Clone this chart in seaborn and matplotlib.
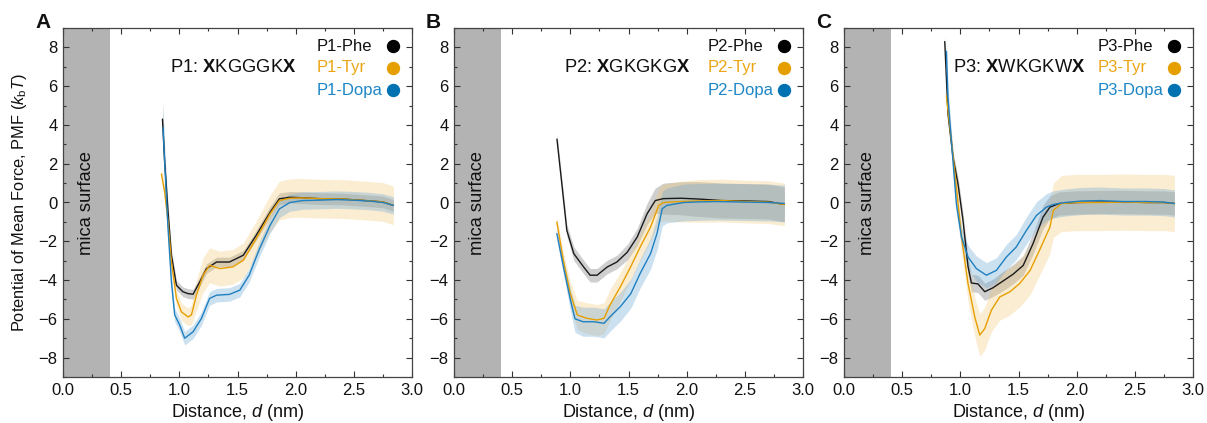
import numpy as np
import matplotlib
matplotlib.use("Agg")
import matplotlib.pyplot as plt
import seaborn as sns
from matplotlib.ticker import MultipleLocator, FormatStrFormatter

# ---------------- data ----------------
# Panel A (P1)
p1_phe_d = [0.855, 0.874, 0.903, 0.932, 0.975, 1.03, 1.075, 1.118, 1.175, 1.233, 1.32, 1.43, 1.55, 1.66, 1.78, 1.86, 1.95, 2.05, 2.2, 2.4, 2.6, 2.75, 2.84]
p1_phe_v = [4.3, 2.07, -0.5, -2.72, -4.27, -4.6, -4.7, -4.73, -4.1, -3.41, -3.07, -3.07, -2.72, -1.7, -0.5, 0.19, 0.27, 0.25, 0.2, 0.18, 0.1, 0.03, -0.15]
p1_phe_e = [0.9, 0.6, 0.4, 0.3, 0.25, 0.25, 0.25, 0.25, 0.25, 0.25, 0.25, 0.25, 0.25, 0.25, 0.3, 0.3, 0.3, 0.3, 0.3, 0.3, 0.3, 0.3, 0.3]

p1_tyr_d = [0.846, 0.874, 0.903, 0.932, 0.975, 1.018, 1.075, 1.104, 1.147, 1.204, 1.26, 1.347, 1.46, 1.55, 1.66, 1.78, 1.86, 1.95, 2.05, 2.2, 2.4, 2.6, 2.75, 2.84]
p1_tyr_v = [1.47, 0.53, -1.0, -3.07, -4.95, -5.64, -5.9, -5.8, -4.78, -3.75, -3.24, -3.41, -3.32, -2.98, -1.87, -0.58, 0.1, 0.22, 0.24, 0.2, 0.18, 0.1, 0.03, -0.15]
p1_tyr_e = [0.3, 0.3, 0.3, 0.35, 0.4, 0.45, 0.45, 0.5, 0.8, 0.9, 0.9, 0.9, 0.9, 0.9, 0.9, 0.95, 1.0, 1.0, 1.0, 1.0, 1.0, 1.0, 1.0, 1.0]

p1_dopa_d = [0.86, 0.874, 0.903, 0.932, 0.96, 1.003, 1.046, 1.118, 1.19, 1.26, 1.32, 1.43, 1.52, 1.6, 1.69, 1.78, 1.86, 1.95, 2.06, 2.2, 2.35, 2.5, 2.64, 2.75, 2.84]
p1_dopa_v = [3.87, 2.07, -1.35, -4.1, -5.8, -6.32, -7.0, -6.67, -5.98, -4.95, -4.78, -4.74, -4.52, -3.75, -2.38, -1.18, -0.33, 0.0, 0.1, 0.12, 0.15, 0.12, 0.07, 0.0, -0.15]
p1_dopa_e = [1.1, 0.8, 0.5, 0.4, 0.35, 0.35, 0.35, 0.35, 0.35, 0.35, 0.35, 0.35, 0.35, 0.35, 0.4, 0.4, 0.45, 0.45, 0.45, 0.45, 0.45, 0.45, 0.45, 0.45, 0.45]

# Panel B (P2)
p2_phe_d = [0.885, 0.93, 0.97, 1.03, 1.115, 1.17, 1.23, 1.316, 1.40, 1.49, 1.575, 1.66, 1.73, 1.80, 1.95, 2.1, 2.3, 2.5, 2.7, 2.84]
p2_phe_v = [3.27, 0.79, -1.44, -2.64, -3.33, -3.75, -3.75, -3.33, -3.07, -2.56, -1.78, -0.58, 0.1, 0.2, 0.22, 0.18, 0.1, 0.08, 0.05, -0.1]
p2_phe_e = [0.3, 0.3, 0.3, 0.35, 0.35, 0.35, 0.35, 0.35, 0.35, 0.4, 0.45, 0.55, 0.65, 0.8, 0.85, 0.9, 0.9, 0.9, 0.9, 0.9]

p2_tyr_d = [0.884, 0.94, 1.0, 1.06, 1.14, 1.23, 1.29, 1.34, 1.43, 1.52, 1.6, 1.69, 1.76, 1.80, 1.95, 2.1, 2.3, 2.5, 2.7, 2.84]
p2_tyr_v = [-1.0, -2.98, -4.7, -5.8, -5.97, -6.06, -5.97, -5.3, -4.35, -3.3, -2.3, -1.26, -0.15, 0.0, 0.05, 0.08, 0.1, 0.05, 0.02, -0.1]
p2_tyr_e = [0.3, 0.4, 0.6, 0.75, 0.8, 0.8, 0.8, 0.8, 0.75, 0.7, 0.7, 0.75, 0.85, 0.95, 1.05, 1.1, 1.1, 1.1, 1.1, 1.1]

p2_dopa_d = [0.884, 0.94, 1.0, 1.04, 1.11, 1.2, 1.29, 1.34, 1.43, 1.52, 1.6, 1.69, 1.745, 1.79, 1.83, 1.975, 2.1, 2.26, 2.5, 2.7, 2.84]
p2_dopa_v = [-1.6, -3.3, -5.0, -6.0, -6.15, -6.15, -6.23, -5.9, -5.37, -4.7, -3.66, -2.63, -1.6, -0.32, -0.15, 0.0, 0.03, 0.05, 0.02, 0.0, -0.05]
p2_dopa_e = [0.3, 0.4, 0.55, 0.7, 0.75, 0.75, 0.75, 0.75, 0.75, 0.75, 0.75, 0.8, 0.85, 0.9, 0.9, 0.95, 0.95, 0.95, 0.95, 0.95, 0.95]

# Panel C (P3)
p3_phe_d = [0.866, 0.894, 0.937, 0.98, 1.023, 1.066, 1.095, 1.152, 1.21, 1.28, 1.367, 1.453, 1.54, 1.625, 1.71, 1.77, 1.85, 2.0, 2.2, 2.4, 2.6, 2.75, 2.84]
p3_phe_v = [8.3, 4.56, 2.33, 0.96, -0.93, -3.3, -4.15, -4.2, -4.6, -4.4, -4.05, -3.7, -3.25, -2.12, -0.76, -0.24, -0.05, 0.0, 0.02, 0.03, 0.0, 0.0, -0.05]
p3_phe_e = [0.3, 0.3, 0.3, 0.35, 0.4, 0.45, 0.45, 0.45, 0.45, 0.45, 0.5, 0.5, 0.5, 0.55, 0.6, 0.6, 0.6, 0.6, 0.6, 0.6, 0.6, 0.6, 0.6]

p3_tyr_d = [0.88, 0.923, 0.966, 1.01, 1.066, 1.124, 1.167, 1.21, 1.267, 1.339, 1.425, 1.51, 1.6, 1.68, 1.77, 1.80, 1.87, 2.0, 2.2, 2.4, 2.6, 2.75, 2.84]
p3_tyr_v = [5.5, 3.18, 0.79, -1.78, -4.18, -5.9, -6.84, -6.5, -5.55, -4.87, -4.61, -4.18, -3.5, -2.47, -1.27, -0.4, -0.05, 0.0, 0.0, 0.02, 0.0, 0.0, -0.05]
p3_tyr_e = [0.3, 0.4, 0.5, 0.7, 0.9, 1.0, 1.1, 1.1, 1.1, 1.2, 1.2, 1.2, 1.25, 1.3, 1.35, 1.4, 1.45, 1.45, 1.45, 1.45, 1.45, 1.45, 1.45]

p3_dopa_d = [0.88, 0.894, 0.923, 0.966, 1.01, 1.066, 1.138, 1.224, 1.31, 1.396, 1.48, 1.568, 1.654, 1.74, 1.8, 1.9, 2.05, 2.2, 2.4, 2.6, 2.75, 2.84]
p3_dopa_v = [7.8, 5.4, 3.18, -0.07, -1.78, -2.81, -3.41, -3.75, -3.5, -2.81, -2.3, -1.44, -0.67, -0.24, -0.1, 0.0, 0.08, 0.1, 0.05, 0.05, 0.02, -0.05]
p3_dopa_e = [0.8, 0.6, 0.5, 0.5, 0.55, 0.6, 0.65, 0.65, 0.65, 0.65, 0.65, 0.7, 0.7, 0.7, 0.7, 0.7, 0.7, 0.7, 0.7, 0.7, 0.7, 0.7]

panel_letters = ["A", "B", "C"]
peptide_names = ["P1", "P2", "P3"]
sequences = ["KGGGK", "GKGKG", "WKGKW"]
variants = ["Phe", "Tyr", "Dopa"]
mica_range = [0.0, 0.4]

series = [
    [(p1_phe_d, p1_phe_v, p1_phe_e), (p1_tyr_d, p1_tyr_v, p1_tyr_e), (p1_dopa_d, p1_dopa_v, p1_dopa_e)],
    [(p2_phe_d, p2_phe_v, p2_phe_e), (p2_tyr_d, p2_tyr_v, p2_tyr_e), (p2_dopa_d, p2_dopa_v, p2_dopa_e)],
    [(p3_phe_d, p3_phe_v, p3_phe_e), (p3_tyr_d, p3_tyr_v, p3_tyr_e), (p3_dopa_d, p3_dopa_v, p3_dopa_e)],
]

line_colors = ["#1a1a1a", "#E69F00", "#1f7fbf"]
band_colors = ["#777777", "#F2C46A", "#6FAAD6"]
band_alpha = [0.35, 0.3, 0.35]
marker_colors = ["#000000", "#E69F00", "#0072B2"]
legend_text_colors = ["#111111", "#EBA513", "#1c86c6"]

# ---------------- style ----------------
sns.set_theme(style="ticks")
plt.rcParams["font.family"] = ["Liberation Sans", "DejaVu Sans"]
plt.rcParams["mathtext.fontset"] = "custom"
plt.rcParams["mathtext.rm"] = "Liberation Sans"
plt.rcParams["mathtext.it"] = "Liberation Sans:italic"
plt.rcParams["mathtext.bf"] = "Liberation Sans:bold"

fig = plt.figure(figsize=(12.07, 4.23), dpi=100)
W, H = 1207.0, 423.0
lefts = [63, 454, 844]
ax_w, ax_top, ax_bot = 349, 28, 377
legend_rows = [8.07, 6.95, 5.8]
seq_right = [2.01, 2.03, 2.08]

for i in range(3):
    ax = fig.add_axes([lefts[i] / W, 1 - ax_bot / H, ax_w / W, (ax_bot - ax_top) / H])
    ax.axvspan(mica_range[0], mica_range[1], color="#b3b3b3", lw=0, zorder=0)
    ax.text(0.2, 0.0, "mica surface", rotation=90, ha="center", va="center", fontsize=13.2, color="#111111")

    for j, (d, v, e) in enumerate(series[i]):
        d = np.asarray(d); v = np.asarray(v); e = np.asarray(e)
        ax.fill_between(d, v - e, v + e, color=band_colors[j], alpha=band_alpha[j], lw=0, zorder=1 + j)
    for j, (d, v, e) in enumerate(series[i]):
        sns.lineplot(x=d, y=v, ax=ax, color=line_colors[j], linewidth=1.0, errorbar=None,
                     sort=False, zorder=5 + j)

    ax.set_xlim(0, 3)
    ax.set_ylim(-9, 9)
    ax.xaxis.set_major_locator(MultipleLocator(0.5))
    ax.xaxis.set_minor_locator(MultipleLocator(0.25))
    ax.yaxis.set_major_locator(MultipleLocator(2))
    ax.yaxis.set_minor_locator(MultipleLocator(1))
    ax.xaxis.set_major_formatter(FormatStrFormatter("%.1f"))
    ax.tick_params(which="both", direction="in", top=True, right=True, colors="#333333",
                   labelcolor="#111111", labelsize=12, width=0.8)
    ax.tick_params(which="major", length=4, pad=4)
    ax.tick_params(which="minor", length=2)
    for s in ax.spines.values():
        s.set_color("#444444")
        s.set_linewidth(0.9)

    ax.set_xlabel("Distance, $\\it{d}$ (nm)", fontsize=13, labelpad=3, color="#111111")
    if i == 0:
        ax.set_ylabel("Potential of Mean Force, PMF ($\\it{k}_\\mathrm{b}\\it{T}$)", fontsize=11.8,
                      labelpad=7, color="#111111")
    else:
        ax.set_ylabel("")

    # legend: label on the left, coloured dot on the right (column-aligned)
    trans = ax.get_yaxis_transform()
    for j in range(3):
        ax.text(0.726, legend_rows[j], f"{peptide_names[i]}-{variants[j]}", transform=trans,
                ha="left", va="center", fontsize=12, color=legend_text_colors[j])
        ax.plot([0.945], [legend_rows[j]], transform=trans, marker="o", markersize=8.6,
                color=marker_colors[j], linestyle="none", clip_on=False)

    ax.text(seq_right[i], 6.95, f"{peptide_names[i]}: $\\mathbf{{X}}${sequences[i]}$\\mathbf{{X}}$",
            ha="right", va="center", fontsize=13.2, color="#111111")

    fig.text((lefts[i] - 28) / W, 1 - 22 / H, panel_letters[i], fontsize=15, fontweight="bold",
             ha="left", va="center", color="#111111")

fig.savefig("out.png", dpi=100)
